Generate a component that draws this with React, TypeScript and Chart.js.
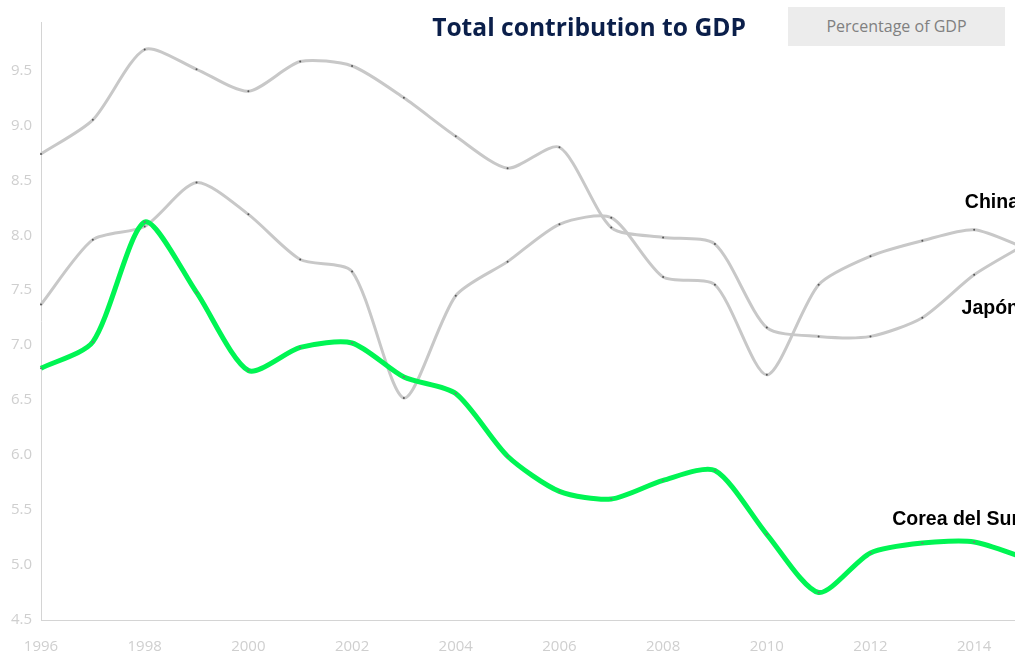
import React, { useEffect, useRef } from "react";
import { Chart, registerables } from "chart.js";

Chart.register(...registerables);

const years = ["1996","1997","1998","1999","2000","2001","2002","2003","2004","2005","2006","2007","2008","2009","2010","2011","2012","2013","2014","2015"];
const corea = [6.79, 7.03, 8.12, 7.48, 6.77, 6.98, 7.02, 6.71, 6.56, 5.99, 5.67, 5.60, 5.77, 5.86, 5.28, 4.75, 5.11, 5.20, 5.21, 5.06];
const japon = [8.74, 9.05, 9.69, 9.51, 9.31, 9.58, 9.54, 9.25, 8.90, 8.61, 8.80, 8.07, 7.98, 7.92, 7.16, 7.08, 7.08, 7.25, 7.64, 7.92];
const china = [7.37, 7.96, 8.08, 8.48, 8.19, 7.78, 7.67, 6.52, 7.45, 7.76, 8.10, 8.16, 7.62, 7.55, 6.73, 7.55, 7.81, 7.95, 8.05, 7.88];
const yTicks = [4.5, 5.0, 5.5, 6.0, 6.5, 7.0, 7.5, 8.0, 8.5, 9.0, 9.5];
const seriesNames = ["Corea del Sur", "Japón", "China"];
const seriesLabelValues = [5.41, 7.33, 8.30];

const endLabels = {
  id: "endLabels",
  afterDatasetsDraw(chart: any) {
    const { ctx, scales } = chart;
    const x = scales.x.getPixelForValue(years.length - 1) - 7;
    ctx.save();
    ctx.font = 'bold 19.5px "Liberation Sans", Arial, sans-serif';
    ctx.fillStyle = "#000";
    ctx.textAlign = "right";
    ctx.textBaseline = "middle";
    seriesNames.forEach((n, i) => {
      ctx.fillText(n, x, scales.y.getPixelForValue(seriesLabelValues[i]));
    });
    ctx.restore();
  },
};

export default function App() {
  const ref = useRef<HTMLCanvasElement>(null);
  useEffect(() => {
    const chart = new Chart(ref.current!, {
      type: "line",
      data: {
        labels: years,
        datasets: [
          { label: seriesNames[0], data: corea, borderColor: "#00f553", borderWidth: 5, tension: 0.25, pointRadius: 1, pointBackgroundColor: "#777", pointBorderWidth: 0 },
          { label: seriesNames[1], data: japon, borderColor: "#c8c8c8", borderWidth: 3, tension: 0.25, pointRadius: 1, pointBackgroundColor: "#555", pointBorderWidth: 0 },
          { label: seriesNames[2], data: china, borderColor: "#c8c8c8", borderWidth: 3, tension: 0.25, pointRadius: 1, pointBackgroundColor: "#555", pointBorderWidth: 0 },
        ],
      },
      options: {
        animation: false,
        responsive: false,
        layout: { padding: { top: 22, right: 20, left: 0, bottom: 0 } },
        plugins: { legend: { display: false }, tooltip: { enabled: false } },
        scales: {
          x: {
            grid: { display: false, drawTicks: false },
            border: { display: true, color: "#d4d4d4", width: 1 },
            ticks: {
              autoSkip: false,
              maxRotation: 0,
              padding: 18,
              color: "#cfcfcf",
              font: { family: '"Open Sans", sans-serif', size: 15 },
              callback: (v: any, i: number) => (i % 2 === 0 ? years[i] : ""),
            },
            afterFit: (s: any) => { s.height = 40; },
          },
          y: {
            min: 4.5,
            max: 9.94,
            grid: { display: false, drawTicks: false },
            border: { display: true, color: "#d4d4d4", width: 1 },
            ticks: {
              padding: 9,
              color: "#cfcfcf",
              font: { family: '"Open Sans", sans-serif', size: 15 },
              callback: (v: any) => Number(v).toFixed(1),
            },
            afterBuildTicks: (s: any) => { s.ticks = yTicks.map((v) => ({ value: v })); },
            afterFit: (s: any) => { s.width = 41; },
          },
        },
      },
      plugins: [endLabels],
    });
    return () => chart.destroy();
  }, []);

  return (
    <div style={{ position: "absolute", left: 0, top: 0, width: 1015, height: 652, overflow: "hidden", background: "#fff" }}>
      <canvas ref={ref} width={1046} height={660} style={{ position: "absolute", left: 0, top: 0, width: 1046, height: 660 }} />
      <div style={{ position: "absolute", left: 389, top: 10, width: 400, textAlign: "center", fontFamily: '"Open Sans", sans-serif', fontWeight: 700, fontSize: 24.6, color: "#0b1f4a", lineHeight: "34px" }}>
        Total contribution to GDP
      </div>
      <div style={{ position: "absolute", left: 788, top: 7, width: 217, height: 39, background: "#ececec", textAlign: "center", lineHeight: "39px", fontFamily: '"Open Sans", sans-serif', fontSize: 16, color: "#808080" }}>
        Percentage of GDP
      </div>
    </div>
  );
}
